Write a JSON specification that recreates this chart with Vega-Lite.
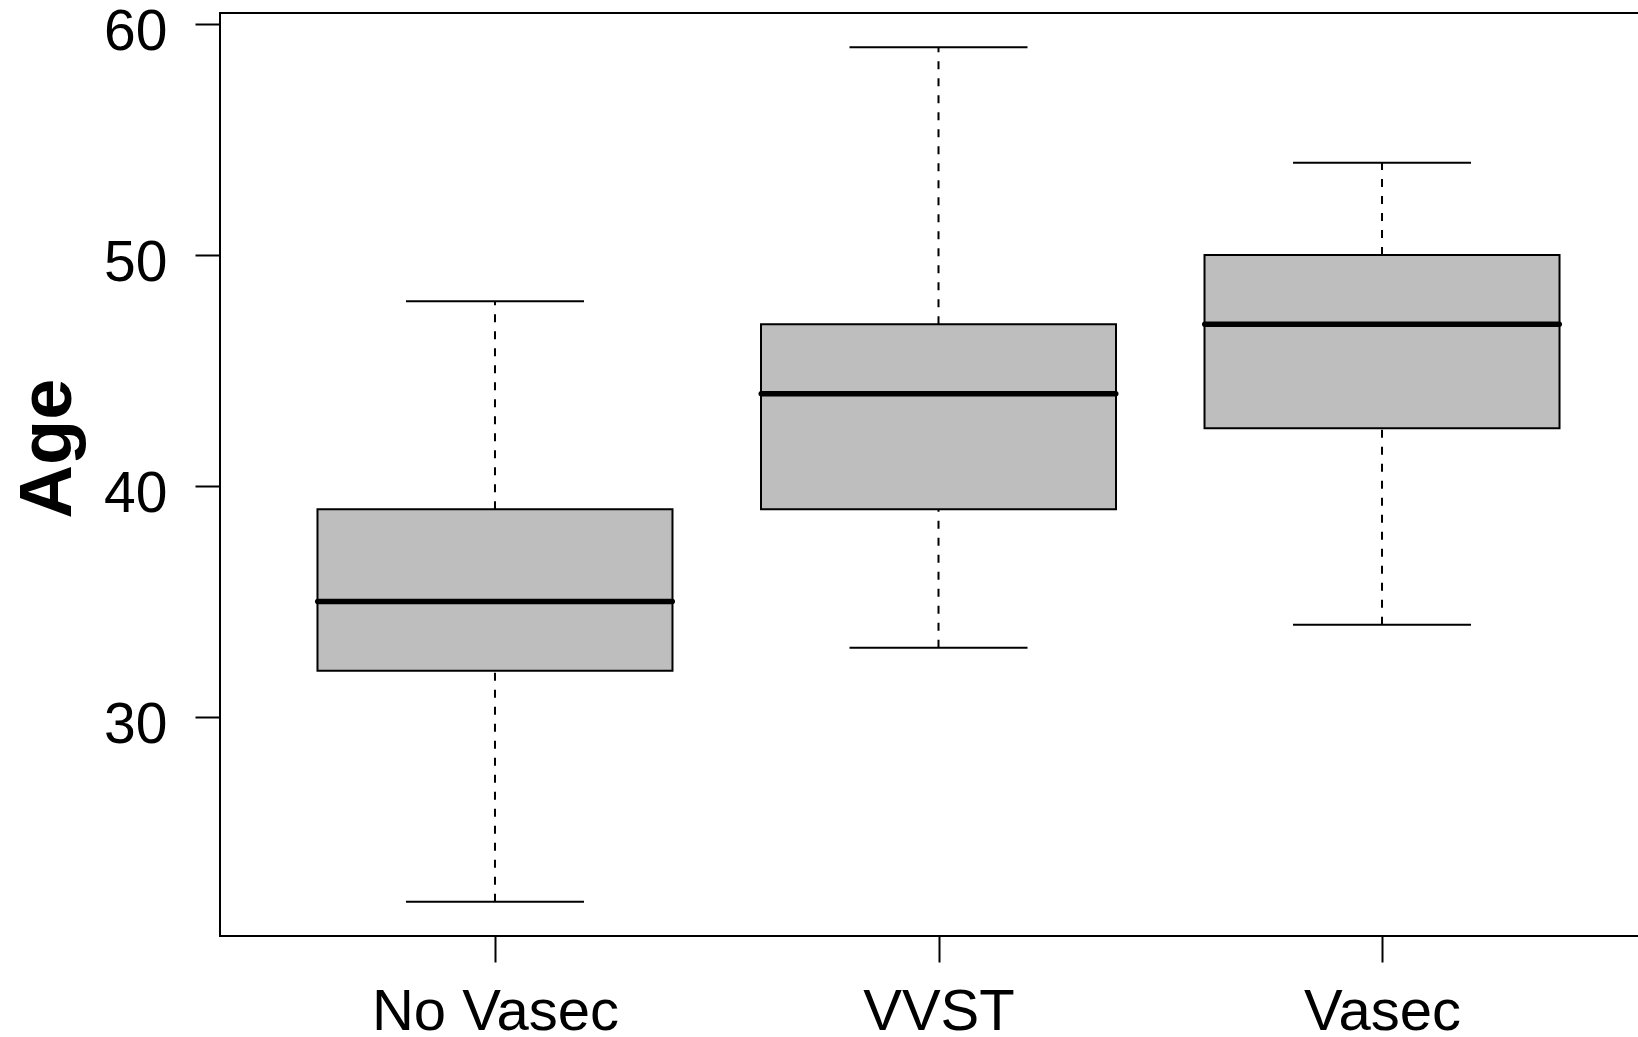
{
  "$schema": "https://vega.github.io/schema/vega-lite/v6.json",
  "autosize": "none",
  "padding": {"left": 220, "top": 13, "right": 0, "bottom": 101},
  "width": 1437,
  "height": 923,
  "background": "white",
  "data": {
    "values": [
      {"group": "No Vasec", "low": 22, "q1": 32, "median": 35, "q3": 39, "high": 48},
      {"group": "VVST", "low": 33, "q1": 39, "median": 44, "q3": 47, "high": 59},
      {"group": "Vasec", "low": 34, "q1": 42.5, "median": 47, "q3": 50, "high": 54}
    ]
  },
  "encoding": {
    "x": {
      "field": "group",
      "type": "nominal",
      "sort": ["No Vasec", "VVST", "Vasec"],
      "scale": {"type": "point", "padding": 0.62},
      "axis": {
        "title": null,
        "labelAngle": 0,
        "labelLimit": 0,
        "domain": false,
        "tickSize": 26,
        "tickWidth": 2,
        "tickColor": "black",
        "labelFont": "Liberation Sans",
        "labelFontSize": 58,
        "labelColor": "black",
        "labelBaseline": "alphabetic",
        "labelPadding": 67
      }
    }
  },
  "layer": [
    {
      "mark": {"type": "rule", "strokeDash": [8, 9], "strokeWidth": 2, "color": "black"},
      "encoding": {
        "y": {
          "field": "q3",
          "type": "quantitative",
          "scale": {"domain": [20.52, 60.48], "nice": false, "zero": false},
          "axis": {
            "values": [30, 40, 50, 60],
            "grid": false,
            "domain": false,
            "tickSize": 25,
            "tickWidth": 2,
            "tickColor": "black",
            "labelFont": "Liberation Sans",
            "labelFontSize": 57,
            "labelColor": "black",
            "labelPadding": 28,
            "labelOffset": 8,
            "labelBaseline": "middle",
            "title": "Age",
            "titleFont": "Liberation Sans",
            "titleFontSize": 74,
            "titleFontWeight": "bold",
            "titleColor": "black",
            "titleAngle": 270,
            "titleAlign": "center",
            "titleBaseline": "alphabetic",
            "titleX": -150,
            "titleY": 435
          }
        },
        "y2": {"field": "high"}
      }
    },
    {
      "mark": {"type": "rule", "strokeDash": [8, 9], "strokeWidth": 2, "color": "black"},
      "encoding": {
        "y": {"field": "low", "type": "quantitative"},
        "y2": {"field": "q1"}
      }
    },
    {
      "mark": {"type": "tick", "size": 178, "thickness": 2, "color": "black", "opacity": 1},
      "encoding": {"y": {"field": "high", "type": "quantitative"}}
    },
    {
      "mark": {"type": "tick", "size": 178, "thickness": 2, "color": "black", "opacity": 1},
      "encoding": {"y": {"field": "low", "type": "quantitative"}}
    },
    {
      "mark": {"type": "bar", "size": 355, "fill": "#BEBEBE", "stroke": "black", "strokeWidth": 2, "opacity": 1},
      "encoding": {
        "y": {"field": "q1", "type": "quantitative"},
        "y2": {"field": "q3"}
      }
    },
    {
      "mark": {"type": "tick", "size": 360, "thickness": 5.5, "color": "black", "opacity": 1, "cornerRadius": 2.5},
      "encoding": {"y": {"field": "median", "type": "quantitative"}}
    }
  ],
  "config": {
    "view": {"stroke": "black", "strokeWidth": 2}
  }
}
